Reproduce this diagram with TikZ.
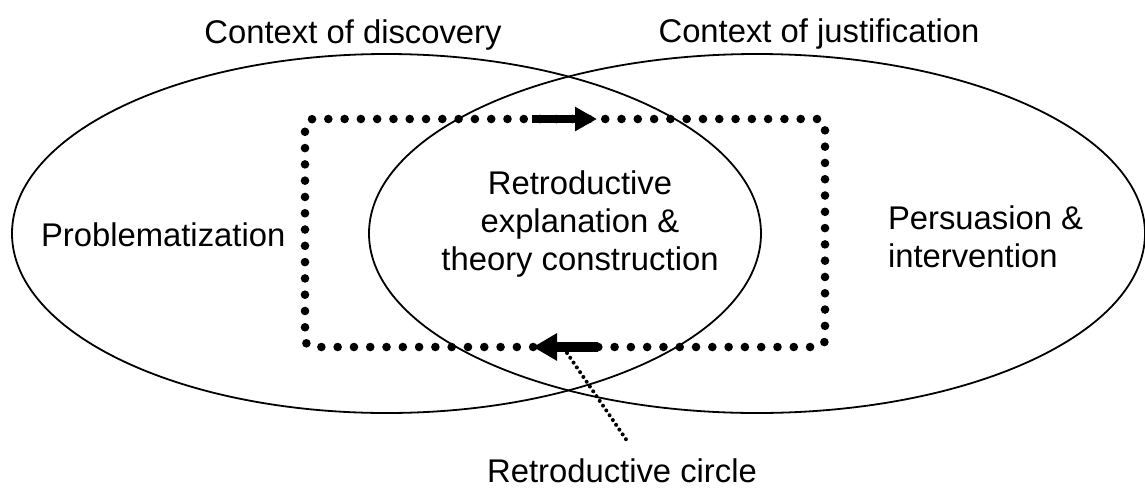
\documentclass[tikz,border=0pt]{standalone}
\usepackage{fontspec}
\setmainfont{Liberation Sans}
\usetikzlibrary{shapes.geometric,arrows.meta}

\tikzset{
  label/.style={inner sep=0pt, outer sep=0pt, font=\fontsize{32.8}{38}\selectfont},
  context/.style={draw, ellipse, line width=1.8pt, inner sep=0pt, outer sep=0pt,
                  minimum height=359pt},
  loopbox/.style={draw, rectangle, rounded corners=8pt, line width=8.6pt,
                  line cap=round, dash pattern=on 0pt off 16.29pt,
                  inner sep=0pt, outer sep=0pt},
  pointer/.style={line width=4pt, line cap=round, dash pattern=on 0pt off 5.8pt}
}

\begin{document}
\begin{tikzpicture}[x=1pt, y=-1pt]
  \useasboundingbox (0,0) rectangle (1145,488);

  % the two overlapping contexts
  \node[context, minimum width=749pt] (disc) at (386.5,233.5) {};
  \node[context, minimum width=776pt] (just) at (757,233.5) {};

  % the retroductive loop
  \node[loopbox, minimum width=520pt, minimum height=228pt] (loop) at (565,233) {};
  \draw[line width=8pt, -{Triangle[length=22pt, width=23pt]}]
    ([xshift=-33pt]loop.north) -- ([xshift=32pt]loop.north);
  \draw[line width=9.5pt, -{Triangle[length=24pt, width=26pt]}]
    ([xshift=33pt]loop.south) -- ([xshift=-32pt]loop.south);

  % headings
  \node[label, anchor=base] (hdisc) at (353,43) {Context of discovery};
  \node[label, anchor=base] (hjust) at (819,42) {Context of justification};

  % stages
  \node[label, anchor=base west] (prob) at (41,246) {Problematization};
  \node[label, anchor=north, align=center] (retro) at (580,170.5)
    {Retroductive\\explanation \&\\theory construction};
  \node[label, anchor=north west, align=left] (pers) at (888,205.8)
    {Persuasion \&\\intervention};

  % caption of the loop
  \node[label, anchor=base] (rc) at (622,482) {Retroductive circle};
  \coordinate (ptr) at ([xshift=2pt, yshift=-6pt]loop.south);
  \draw[pointer] (ptr) -- ([xshift=6pt, yshift=16pt]rc.north);
\end{tikzpicture}
\end{document}
